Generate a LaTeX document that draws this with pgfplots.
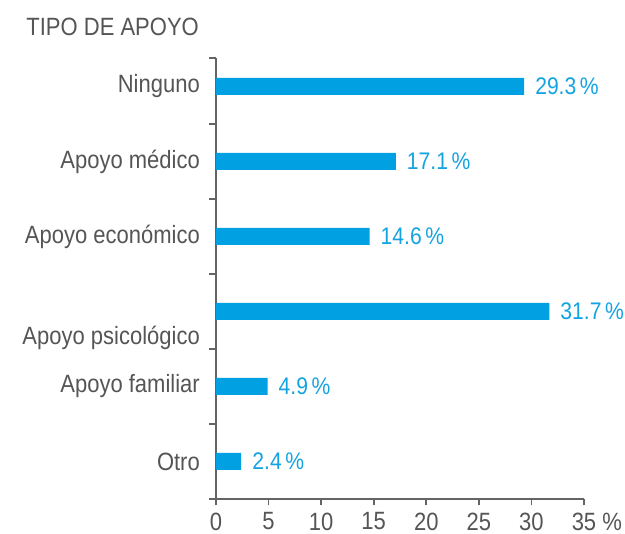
\documentclass[border=0pt]{standalone}
\usepackage{fontspec}
\setmainfont[FakeStretch=0.88]{Liberation Sans}
\usepackage{pgfplots}
\pgfplotsset{compat=1.18}
\definecolor{barblue}{RGB}{0,160,227}
\definecolor{lblblue}{RGB}{20,163,225}
\definecolor{axgray}{RGB}{100,100,100}
\definecolor{txtgray}{RGB}{85,85,85}
\begin{document}
\begin{tikzpicture}
\begin{axis}[
  at={(0,0)}, anchor=south west,
  scale only axis, width=368pt, height=441pt,
  xbar, bar width=17pt,
  xmin=0, xmax=35, ymin=-0.5, ymax=5.38,
  axis x line*=bottom, axis y line*=left,
  x axis line style={-, axgray, line width=1.6pt},
  y axis line style={-, axgray, line width=1.6pt},
  tick align=outside,
  major tick length=6.5pt,
  every tick/.style={axgray, line width=1.6pt},
  /pgf/number format/assume math mode=true,
  xtick={0,5,...,35},
  xticklabels={0,5,10,15,20,25,30,{35\rlap{\ \%}}},
  ytick={-0.5,0.5,1.5,2.5,3.5,4.5,5.38},
  yticklabels={},
  extra y ticks={0,1,3,4,5},
  extra y tick labels={Otro,Apoyo familiar,Apoyo económico,Apoyo médico,Ninguno},
  extra tick style={major tick length=0pt, yticklabel style={xshift=-16pt}},
  tick label style={font=\fontsize{25}{30}\selectfont, text=txtgray, inner sep=0pt},
  xticklabel style={yshift=-7pt},
  nodes near coords={\pgfmathprintnumber[fixed,precision=1,fixed zerofill]{\pgfplotspointmeta}\hspace{3.5pt}\%},
  every node near coord/.append style={font=\fontsize{24}{28}\selectfont, text=lblblue, anchor=west, inner sep=0pt, xshift=11pt},
  clip=false,
]
\addplot[fill=barblue, draw=none] coordinates {
  (2.4,0) (4.9,1) (31.7,2) (14.6,3) (17.1,4) (29.3,5)
};
\node[anchor=east, inner sep=0pt, text=txtgray, font=\fontsize{25}{30}\selectfont]
  at (axis cs:0,2) [xshift=-16pt, yshift=-26pt] {Apoyo psicológico};
\end{axis}
\node[anchor=base east, inner sep=0pt, text=txtgray, font=\fontsize{25}{30}\selectfont]
  at (-17pt,463pt) {TIPO DE APOYO};
\pgfresetboundingbox
\useasboundingbox (-216pt,-35pt) rectangle (409pt,499pt);
\end{tikzpicture}
\end{document}
